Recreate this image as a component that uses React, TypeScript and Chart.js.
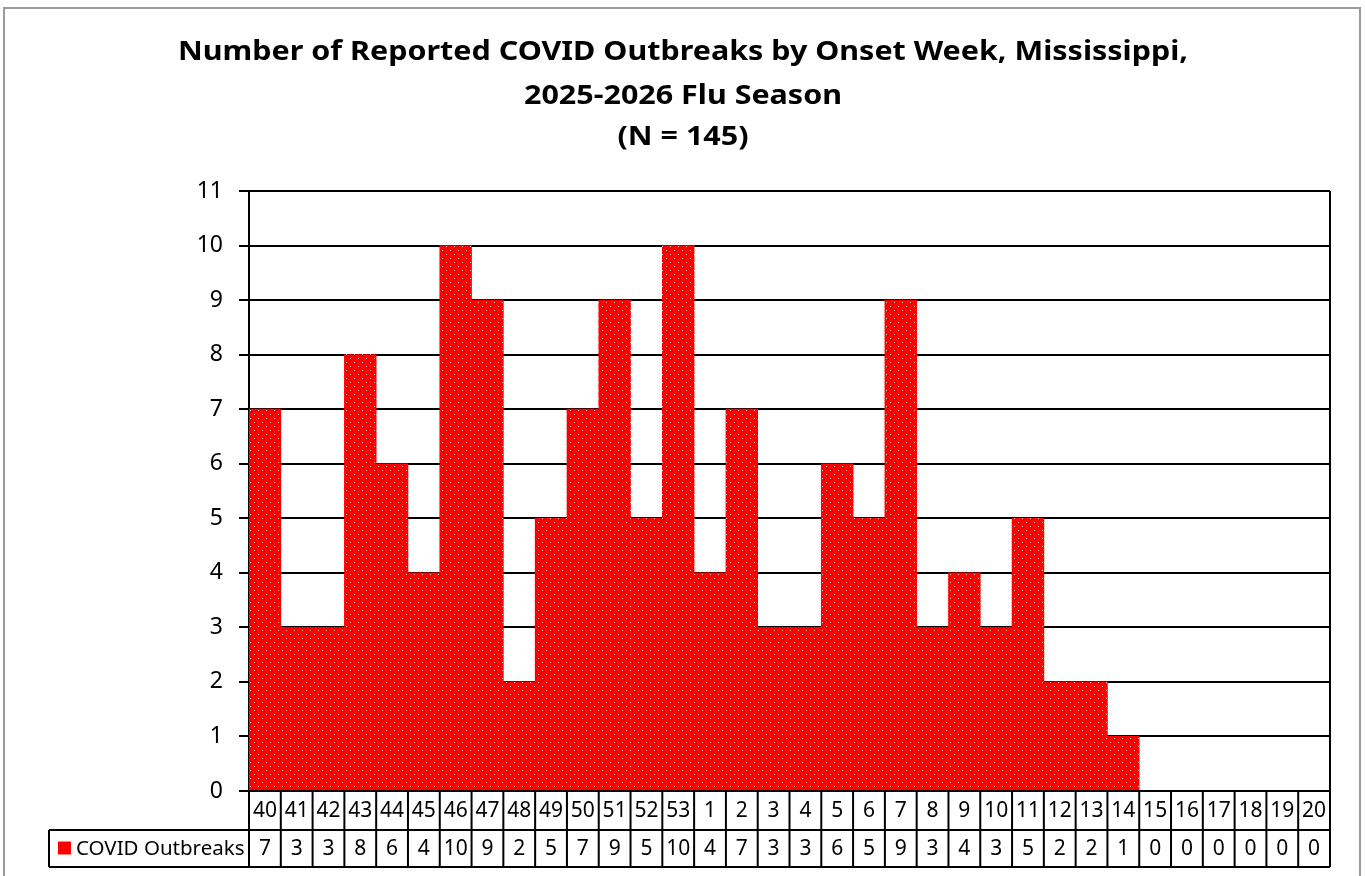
import React, { useEffect, useRef } from 'react';
import { Chart, registerables } from 'chart.js';

Chart.register(...registerables);

const weeks = ['40', '41', '42', '43', '44', '45', '46', '47', '48', '49', '50', '51', '52', '53',
  '1', '2', '3', '4', '5', '6', '7', '8', '9', '10', '11', '12', '13', '14', '15', '16', '17', '18', '19', '20'];
const outbreaks = [7, 3, 3, 8, 6, 4, 10, 9, 2, 5, 7, 9, 5, 10, 4, 7, 3, 3, 6, 5, 9, 3, 4, 3, 5, 2, 2, 1, 0, 0, 0, 0, 0, 0];
const seriesName = 'COVID Outbreaks';
const titleLines = [
  'Number of Reported COVID Outbreaks by Onset Week, Mississippi,',
  '2025-2026 Flu Season',
  '(N = 145)',
];
const yMin = 0;
const yMax = 11;

const FONT = '"Noto Sans", "Open Sans", sans-serif';

function makePattern(): CanvasPattern | string {
  const c = document.createElement('canvas');
  c.width = 8;
  c.height = 8;
  const g = c.getContext('2d');
  if (!g) return '#ff0000';
  g.fillStyle = '#ff0000';
  g.fillRect(0, 0, 8, 8);
  g.fillStyle = '#ffc4c4';
  g.fillRect(2, 2, 1, 1);
  g.fillRect(6, 6, 1, 1);
  const p = g.createPattern(c, 'repeat');
  return p || '#ff0000';
}

export default function App() {
  const ref = useRef<HTMLCanvasElement | null>(null);

  useEffect(() => {
    if (!ref.current) return;
    const pattern = makePattern();

    const tablePlugin = {
      id: 'tablePlugin',
      afterDraw(chart: any) {
        const ctx = chart.ctx as CanvasRenderingContext2D;
        const area = chart.chartArea;
        const n = weeks.length;
        const left = area.left;
        const right = area.right;
        const colW = (right - left) / n;
        const y0 = area.bottom;
        const y1 = y0 + 39;
        const y2 = y1 + 37;
        const tableLeft = 49;
        ctx.save();
        ctx.strokeStyle = '#000';
        ctx.lineWidth = 2;
        // right border of plot
        ctx.beginPath();
        ctx.moveTo(right, area.top);
        ctx.lineTo(right, y0);
        ctx.stroke();
        // table lines
        ctx.beginPath();
        ctx.moveTo(left, y0);
        ctx.lineTo(right, y0);
        ctx.moveTo(tableLeft, y1);
        ctx.lineTo(right, y1);
        ctx.moveTo(tableLeft, y2);
        ctx.lineTo(right, y2);
        ctx.moveTo(tableLeft, y1);
        ctx.lineTo(tableLeft, y2);
        for (let i = 0; i <= n; i++) {
          const x = left + i * colW;
          ctx.moveTo(x, y0);
          ctx.lineTo(x, y2);
        }
        ctx.stroke();
        // texts
        ctx.fillStyle = '#000';
        ctx.font = `21px ${FONT}`;
        ctx.textAlign = 'center';
        ctx.textBaseline = 'middle';
        for (let i = 0; i < n; i++) {
          const cx = chart.scales.x.getPixelForValue(i);
          ctx.fillText(weeks[i], cx, (y0 + y1) / 2 + 1);
          ctx.fillText(String(outbreaks[i]), cx, (y1 + y2) / 2 + 1);
        }
        // legend cell
        ctx.fillStyle = '#ff0000';
        ctx.fillRect(58, (y1 + y2) / 2 - 7, 13, 13);
        ctx.fillStyle = '#000';
        ctx.textAlign = 'left';
        ctx.font = `20.5px ${FONT}`;
        ctx.fillText(seriesName, 76, (y1 + y2) / 2 + 1);
        // title
        ctx.font = `bold 26px ${FONT}`;
        ctx.textAlign = 'center';
        const w0 = ctx.measureText(titleLines[0]).width;
        const sx = 1010 / w0;
        const ys = [53, 97, 138];
        titleLines.forEach((t, i) => {
          ctx.save();
          ctx.translate(683, ys[i]);
          ctx.scale(sx, 1);
          ctx.fillText(t, 0, 0);
          ctx.restore();
        });
        // outer border
        ctx.strokeStyle = '#9a9a9a';
        ctx.lineWidth = 2;
        ctx.strokeRect(4, 8, 1356, 900);
        ctx.restore();
      },
    };

    const chart = new Chart(ref.current, {
      type: 'bar',
      data: {
        labels: weeks,
        datasets: [
          {
            label: seriesName,
            data: outbreaks,
            backgroundColor: pattern as any,
            borderWidth: 0,
            categoryPercentage: 1,
            barPercentage: 1,
          },
        ],
      },
      options: {
        animation: false,
        responsive: false,
        maintainAspectRatio: false,
        layout: { padding: { top: 191, left: 0, right: 35, bottom: 85 } },
        plugins: {
          legend: { display: false },
          title: { display: false },
          tooltip: { enabled: false },
        },
        scales: {
          x: {
            type: 'category',
            display: false,
            offset: true,
          },
          y: {
            min: yMin,
            max: yMax,
            afterFit: (scale: any) => {
              scale.width = 249;
            },
            ticks: {
              stepSize: 1,
              color: '#000',
              padding: 16,
              font: { size: 23, family: FONT },
            },
            grid: {
              color: '#000',
              lineWidth: 2,
              tickLength: 10,
              drawTicks: true,
            },
            border: { display: true, color: '#000', width: 2 },
          },
        },
      },
      plugins: [tablePlugin],
    });
    return () => chart.destroy();
  }, []);

  return (
    <div style={{ position: 'fixed', left: 0, top: 0, width: 1365, height: 876, background: '#fff' }}>
      <canvas ref={ref} width={1365} height={876} style={{ width: 1365, height: 876, display: 'block' }} />
    </div>
  );
}
